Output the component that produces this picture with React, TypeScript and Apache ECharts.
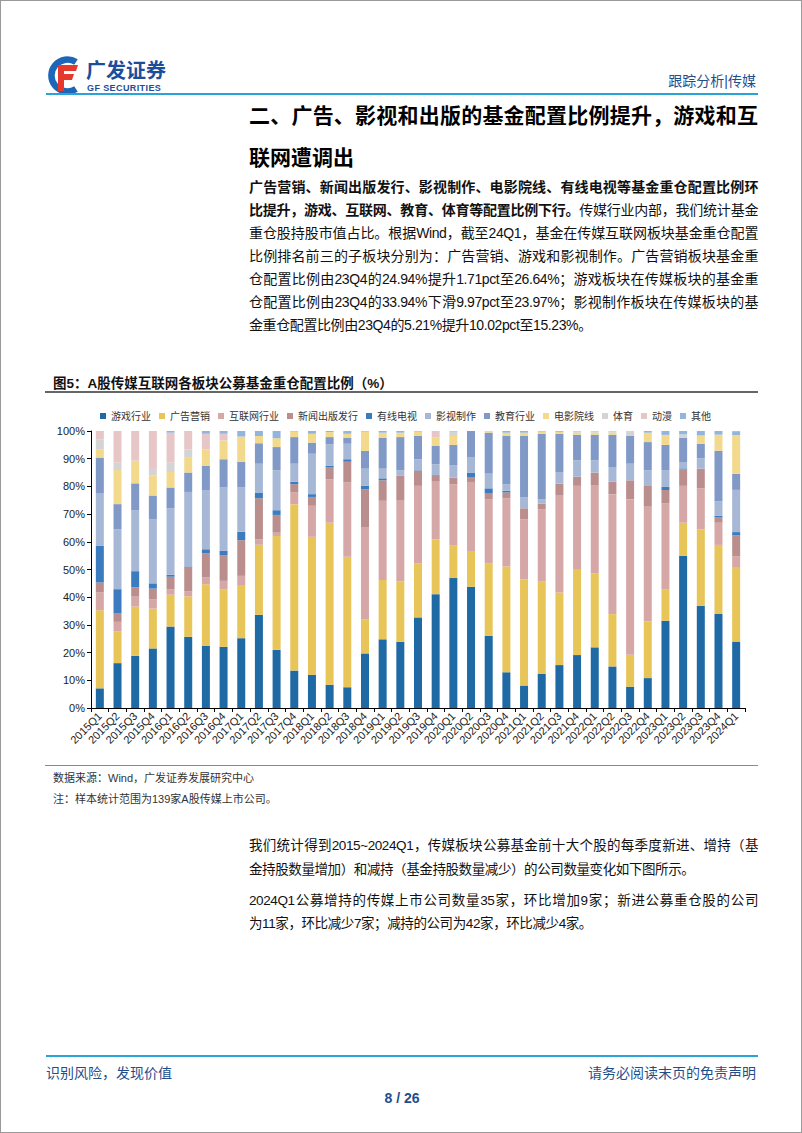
import React, { useEffect, useRef } from "react";
import * as echarts from "echarts";

const quarters = [
  "2015Q1", "2015Q2", "2015Q3", "2015Q4", "2016Q1", "2016Q2", "2016Q3", "2016Q4",
  "2017Q1", "2017Q2", "2017Q3", "2017Q4", "2018Q1", "2018Q2", "2018Q3", "2018Q4",
  "2019Q1", "2019Q2", "2019Q3", "2019Q4", "2020Q1", "2020Q2", "2020Q3", "2020Q4",
  "2021Q1", "2021Q2", "2021Q3", "2021Q4", "2022Q1", "2022Q2", "2022Q3", "2022Q4",
  "2023Q1", "2023Q2", "2023Q3", "2023Q4", "2024Q1",
];

const game = [7.1, 16.2, 18.8, 21.5, 29.4, 25.7, 22.5, 22.1, 25.2, 33.7, 21.0, 13.5, 12.0, 8.4, 7.5, 19.7, 24.8, 23.9, 32.7, 41.1, 46.9, 43.8, 26.1, 12.9, 8.1, 12.3, 15.5, 19.1, 21.9, 15.0, 7.7, 10.8, 31.5, 54.9, 36.9, 33.94, 23.97];
const ad = [28.2, 11.4, 17.8, 14.4, 11.5, 14.6, 22.2, 20.8, 19.2, 25.2, 41.1, 60.1, 49.8, 58.5, 47.1, 12.4, 21.4, 21.8, 19.5, 19.8, 11.9, 12.6, 26.2, 38.2, 38.4, 33.3, 26.2, 30.8, 26.8, 18.9, 11.5, 20.5, 11.4, 12.0, 27.6, 24.94, 26.64];
const internet = [6.4, 3.5, 3.6, 3.4, 2.0, 1.8, 2.4, 3.0, 3.3, 2.0, 1.2, 4.2, 11.2, 15.7, 26.8, 33.0, 28.6, 29.4, 28.0, 20.8, 22.0, 25.2, 23.1, 24.6, 21.6, 26.2, 35.2, 30.3, 31.8, 43.3, 56.2, 41.4, 31.0, 13.3, 14.8, 8.0, 4.2];
const news = [3.6, 3.0, 3.4, 3.8, 4.5, 8.6, 8.7, 9.3, 12.9, 14.8, 6.4, 3.0, 3.2, 4.2, 7.5, 13.9, 7.4, 8.7, 5.4, 2.4, 2.4, 1.8, 2.0, 2.1, 4.0, 2.0, 4.1, 3.3, 4.5, 4.5, 6.8, 7.7, 4.8, 6.0, 7.1, 1.9, 7.5];
const cable = [13.2, 8.8, 5.8, 1.9, 0.7, 0.4, 1.5, 1.5, 3.0, 2.1, 1.7, 0.9, 1.0, 0.6, 0.9, 1.2, 0.7, 0, 0.2, 0, 0, 1.6, 1.9, 0.6, 0, 0, 0, 0, 0, 0, 0, 0, 1.1, 0.3, 0, 0.6, 1.2];
const filmProd = [18.9, 21.6, 21.9, 23.2, 24.0, 26.9, 21.4, 22.9, 16.0, 10.4, 14.4, 6.5, 14.6, 7.8, 5.6, 6.2, 3.5, 2.0, 4.0, 3.9, 4.5, 5.6, 5.3, 2.4, 3.9, 1.6, 4.2, 5.9, 4.4, 5.1, 6.0, 5.4, 6.1, 2.3, 3.7, 5.21, 15.23];
const edu = [13.0, 9.1, 9.8, 8.5, 7.5, 7.0, 8.7, 10.2, 9.3, 7.4, 8.4, 9.6, 4.0, 2.6, 2.2, 6.4, 11.2, 12.0, 8.4, 6.6, 7.3, 9.4, 14.8, 17.4, 22.2, 23.6, 13.8, 9.2, 9.2, 11.8, 10.0, 10.2, 9.1, 8.8, 5.3, 18.3, 5.8];
const cinema = [3.0, 12.3, 8.2, 7.2, 5.6, 5.6, 6.0, 6.8, 9.1, 2.6, 3.2, 2.0, 3.2, 1.8, 1.4, 7.0, 1.8, 1.6, 1.6, 3.0, 3.2, 0, 0.6, 1.2, 1.2, 0.8, 0.7, 0.8, 0.8, 0.8, 0, 3.4, 3.6, 0, 3.0, 5.8, 14.0];
const sports = [3.6, 2.7, 0, 2.4, 3.4, 2.8, 0, 0, 0, 0, 0, 0, 0, 0, 0, 0, 0, 0, 0, 0, 1.6, 0, 0, 0, 0, 0, 0, 0.5, 0.6, 0.6, 1.8, 0, 0, 1.2, 0, 0, 0];
const anime = [3.0, 11.4, 10.8, 13.8, 10.8, 6.6, 5.6, 2.4, 0, 0, 0, 0, 0, 0, 0, 0, 0, 0, 0, 2.4, 0, 0, 0, 0, 0, 0, 0, 0, 0, 0, 0, 0, 0, 0, 0, 0, 0];
const other = [0, 0, 0, 0, 0.6, 0, 1.0, 1.0, 2.0, 1.8, 2.6, 0.2, 1.0, 0.4, 1.0, 0.2, 0.6, 0.6, 0.2, 0, 0.2, 0, 0, 0.6, 0.6, 0.2, 0.3, 0.1, 0, 0, 0, 0.6, 1.4, 1.2, 1.6, 1.4, 1.4];

const seriesNames = ["游戏行业", "广告营销", "互联网行业", "新闻出版发行", "有线电视", "影视制作", "教育行业", "电影院线", "体育", "动漫", "其他"];
const seriesData = [game, ad, internet, news, cable, filmProd, edu, cinema, sports, anime, other];
const seriesColors = ["#1f6aa5", "#e8c559", "#d6a7a7", "#bb8e8e", "#3b7cc0", "#a7b8d7", "#8099c7", "#f2d98c", "#d4d4d4", "#e6c6c6", "#93b5dd"];

const CJK = "'Liberation Sans', Arial, 'Noto Sans CJK SC', sans-serif";
const NAVY = "#1f4e8c";
const BLUE_LINE = "#2aa4d8";

const Chart = () => {
  const ref = useRef<HTMLDivElement>(null);
  useEffect(() => {
    if (!ref.current) return;
    const chart = echarts.init(ref.current, null, { renderer: "svg" });
    chart.setOption({
      animation: false,
      legend: {
        top: 10,
        left: 94,
        itemWidth: 6,
        itemHeight: 6,
        itemGap: 8,
        icon: "rect",
        data: seriesNames,
        textStyle: { fontSize: 10, color: "#333", fontFamily: CJK },
      },
      grid: { left: 90, right: 58, top: 35, bottom: 58 },
      xAxis: {
        type: "category",
        data: quarters,
        axisLine: { lineStyle: { color: "#000", width: 1 } },
        axisTick: { show: true, length: 4, lineStyle: { color: "#000" } },
        axisLabel: { rotate: 45, interval: 0, fontSize: 11, color: "#222", margin: 6, fontFamily: CJK },
      },
      yAxis: {
        type: "value",
        min: 0,
        max: 100,
        interval: 10,
        axisLine: { show: true, lineStyle: { color: "#000", width: 1 } },
        axisTick: { show: true, length: 4, lineStyle: { color: "#000" } },
        splitLine: { show: false },
        axisLabel: { formatter: "{value}%", fontSize: 11, color: "#222", margin: 6, fontFamily: CJK },
      },
      series: seriesNames.map((name, i) => ({
        name,
        type: "bar",
        stack: "total",
        barWidth: 8,
        data: seriesData[i],
        itemStyle: { color: seriesColors[i] },
        emphasis: { disabled: true },
      })),
    });
    return () => chart.dispose();
  }, []);
  return <div ref={ref} style={{ position: "absolute", left: 0, top: 395, width: 802, height: 370 }} />;
};

const jl = (top: number, h: number, extra: React.CSSProperties = {}): React.CSSProperties => ({
  position: "absolute",
  left: 248,
  width: 509,
  top,
  height: h,
  lineHeight: h + "px",
  textAlign: "justify",
  textAlignLast: "justify",
  ...extra,
});

const para1: [string, string][] = [
  ["广告营销、新闻出版发行、影视制作、电影院线、有线电视等基金重仓配置比例环", ""],
  ["比提升，游戏、互联网、教育、体育等配置比例下行。", "传媒行业内部，我们统计基金"],
  ["", "重仓股持股市值占比。根据Wind，截至24Q1，基金在传媒互联网板块基金重仓配置"],
  ["", "比例排名前三的子板块分别为：广告营销、游戏和影视制作。广告营销板块基金重"],
  ["", "仓配置比例由23Q4的24.94%提升1.71pct至26.64%；游戏板块在传媒板块的基金重"],
  ["", "仓配置比例由23Q4的33.94%下滑9.97pct至23.97%；影视制作板块在传媒板块的基"],
  ["", "金重仓配置比例由23Q4的5.21%提升10.02pct至15.23%。"],
];

const para2: { text: string; top: number; last: boolean }[] = [
  { text: "我们统计得到2015~2024Q1，传媒板块公募基金前十大个股的每季度新进、增持（基", top: 833, last: false },
  { text: "金持股数量增加）和减持（基金持股数量减少）的公司数量变化如下图所示。", top: 857, last: true },
  { text: "2024Q1公募增持的传媒上市公司数量35家，环比增加9家；新进公募重仓股的公司", top: 888, last: false },
  { text: "为11家，环比减少7家；减持的公司为42家，环比减少4家。", top: 911, last: true },
];

export default function App() {
  return (
    <div
      style={{
        position: "absolute",
        left: 0,
        top: 0,
        width: 802,
        height: 1133,
        background: "#fff",
        boxSizing: "border-box",
        border: "1px solid #9a9a9a",
        fontFamily: CJK,
        color: "#111",
        overflow: "hidden",
      }}
    >
      {/* logo */}
      <svg style={{ position: "absolute", left: 44, top: 55 }} width={40} height={40} viewBox="0 0 40 40">
        <path d="M31,6 A16,16 0 1 0 31,33" stroke="#1d66b8" strokeWidth={6.5} fill="none" />
        <polygon points="13,9 33,9 31,15 19,15 19,18 29,18 27,24 19,24 19,35 13,35" fill="#e4392c" />
      </svg>
      <div style={{ position: "absolute", left: 85, top: 57, fontSize: 20, fontWeight: 700, color: "#1c4d9c", lineHeight: "26px", letterSpacing: 0 }}>
        广发证券
      </div>
      <div style={{ position: "absolute", left: 86, top: 82, fontSize: 9, fontWeight: 700, color: "#1c4d9c", lineHeight: "11px", letterSpacing: 0.4 }}>
        GF SECURITIES
      </div>
      <div style={{ position: "absolute", right: 45, top: 71, fontSize: 14, color: NAVY, lineHeight: "18px" }}>
        跟踪分析|传媒
      </div>
      <div style={{ position: "absolute", left: 45, top: 92, width: 712, height: 2, background: BLUE_LINE }} />

      {/* heading */}
      <div style={jl(101, 28, { fontSize: 21, fontWeight: 700, color: "#000" })}>二、广告、影视和出版的基金配置比例提升，游戏和互</div>
      <div style={jl(143, 28, { fontSize: 21, fontWeight: 700, color: "#000", textAlignLast: "left" })}>联网遭调出</div>

      {/* paragraph 1 */}
      {para1.map(([b, r], i) => (
        <div
          key={i}
          style={jl(175 + i * 23, 23, {
            fontSize: 14,
            letterSpacing: -0.4,
            textAlignLast: i === para1.length - 1 ? "left" : "justify",
          })}
        >
          {b ? <b>{b}</b> : null}
          {r}
        </div>
      ))}

      {/* figure title */}
      <div style={{ position: "absolute", left: 52, top: 374, fontSize: 13.5, fontWeight: 700, lineHeight: "18px", color: "#111" }}>
        图5：A股传媒互联网各板块公募基金重仓配置比例（%）
      </div>
      <div style={{ position: "absolute", left: 44, top: 390, width: 713, height: 2, background: "#666" }} />

      <Chart />

      <div style={{ position: "absolute", left: 44, top: 764, width: 713, height: 1, background: "#8a8a8a" }} />
      <div style={{ position: "absolute", left: 52, top: 769, fontSize: 11, lineHeight: "16px", color: "#333" }}>
        数据来源：Wind，广发证券发展研究中心
      </div>
      <div style={{ position: "absolute", left: 52, top: 790, fontSize: 11, lineHeight: "16px", color: "#333" }}>
        注：样本统计范围为139家A股传媒上市公司。
      </div>

      {/* paragraph 2 */}
      {para2.map((l, i) => (
        <div key={i} style={jl(l.top, 24, { fontSize: 13.5, letterSpacing: -0.4, textAlignLast: l.last ? "left" : "justify" })}>
          {l.text}
        </div>
      ))}

      {/* footer */}
      <div style={{ position: "absolute", left: 45, top: 1054, width: 712, height: 2, background: BLUE_LINE }} />
      <div style={{ position: "absolute", left: 45, top: 1063, fontSize: 14, color: NAVY, lineHeight: "18px" }}>识别风险，发现价值</div>
      <div style={{ position: "absolute", right: 45, top: 1063, fontSize: 14, color: NAVY, lineHeight: "18px" }}>请务必阅读末页的免责声明</div>
      <div style={{ position: "absolute", left: 0, width: 802, top: 1088, textAlign: "center", fontSize: 14, fontWeight: 700, color: NAVY, lineHeight: "18px" }}>
        8 / 26
      </div>
    </div>
  );
}
